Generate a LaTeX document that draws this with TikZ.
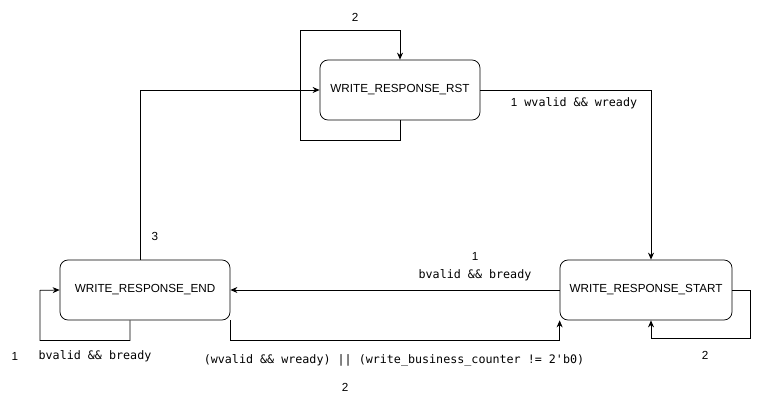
\documentclass[tikz,border=0pt]{standalone}
\usepackage{fontspec}
\setmainfont{Liberation Sans}
\setmonofont{DejaVu Sans Mono}
\usepackage{tikz}
\usetikzlibrary{arrows.meta}
\usetikzlibrary{positioning}
\newcommand{\Gr}{\fontsize{11.7}{14}\selectfont}
\tikzset{
  Zustand/.style={draw, rounded corners=8pt, minimum width=#1, minimum height=60pt, inner sep=0pt}, % für Zustände
  Pfeil/.style={line width=0.75pt,->}, % für Übergänge
  Bed/.style={font=\Gr\ttfamily, inner sep=1pt}, % für Bedingungen
  Nr/.style={font=\Gr\rmfamily, inner sep=1pt} % für Prioritäten
}

\begin{document}
\begin{tikzpicture}[%
x=1pt, y=-1pt,
font=\Gr,
line width=0.75pt,
>={Stealth[length=7pt, width=6pt]} % Voreinstellung für Pfeilspitzen
]
\useasboundingbox (0,0) rectangle (759,401);

%Zustände
\node[Zustand=160pt] (WRst) at (400,90) {WRITE\_RESPONSE\_RST};
\node[Zustand=170pt] (WEnd) at (145,290) {WRITE\_RESPONSE\_END};
\node[Zustand=172pt] (WStart) at (646,290) {WRITE\_RESPONSE\_START};

%Übergänge
\draw[Pfeil] (WRst.south) -- ++(0,20) -| ++(-100,-110) -| (WRst.north);
\draw[Pfeil] (WRst.east) -| ([xshift=5pt]WStart.north);
\draw[Pfeil] (WStart.west) -- (WEnd.east);
\draw[Pfeil] (WEnd.south east) -- ++(0,20) -| (WStart.south west);
\draw[Pfeil] ([xshift=-15pt]WEnd.south) -- ++(0,20) -| ++(-90,-50) -- (WEnd.west);
\draw[Pfeil] (WStart.east) -- ++(18,0) -- ++(0,48) -| ([xshift=5pt]WStart.south);
\draw[Pfeil] ([xshift=-5pt]WEnd.north) |- (WRst.west);

%Beschriftungen
\node[Nr] (nRst) at (355,17) {2};
\node[Bed] (bRst) at (574,103) {{\rmfamily 1} wvalid \&\& wready};
\node[Nr] (nEnd) at (155,236) {3};
\node[Nr] (nStEnd) at (475,256) {1};
\node[Bed] (bStEnd) at (475,275) {bvalid \&\& bready};
\node[Nr] (nEndEnd) at (15,356) {1};
\node[Bed] (bEndEnd) at (95,356) {bvalid \&\& bready};
\node[Nr] (nStSt) at (705,355) {2};
\node[Bed] (bEndSt) at (394,360) {(wvalid \&\& wready) || (write\_business\_counter != 2'b0)};
\node[Nr] (nEndSt) at (345,387) {2};

\end{tikzpicture}
\end{document}
